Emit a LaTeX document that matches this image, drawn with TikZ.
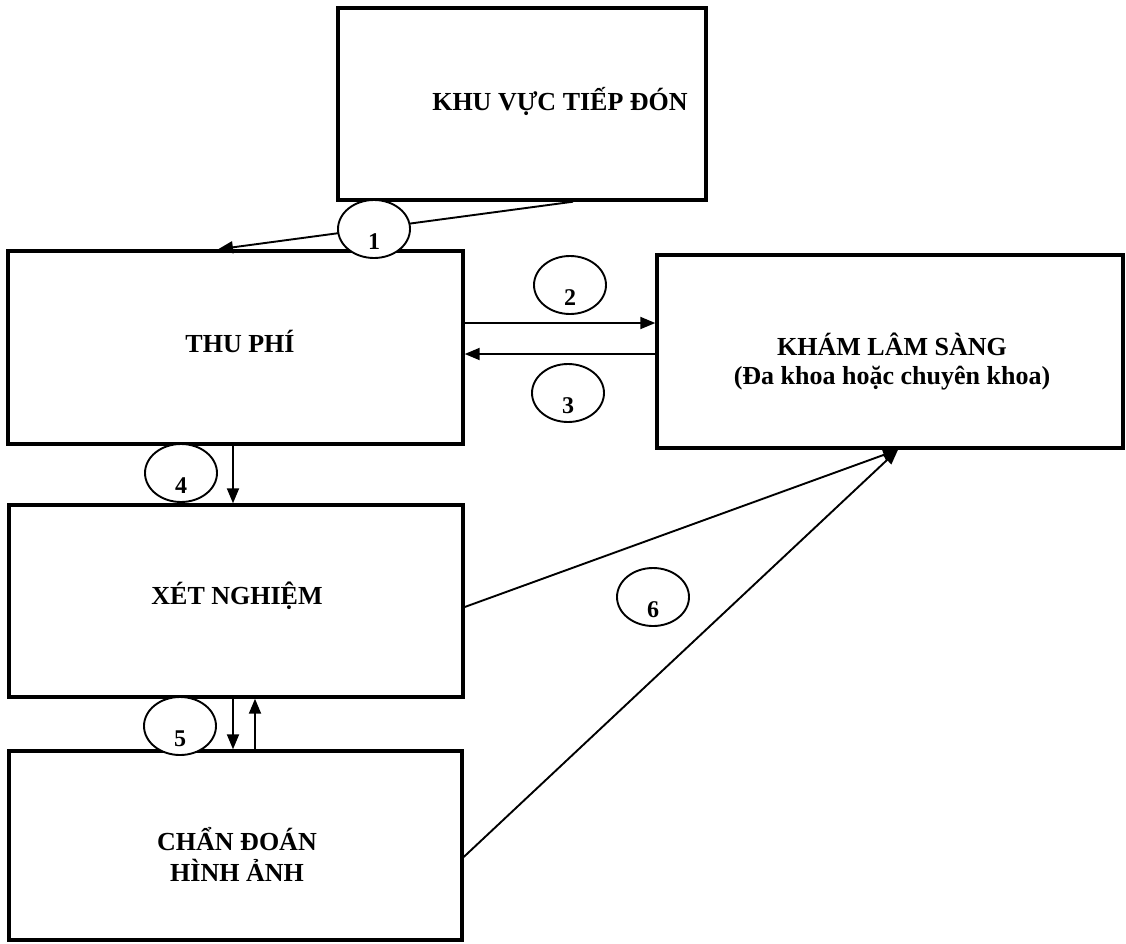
\documentclass[tikz,border=0pt]{standalone}
\usepackage{fontspec}
\setmainfont{Liberation Serif}
\usetikzlibrary{arrows.meta,shapes.geometric,calc}
\begin{document}
\begin{tikzpicture}[x=1pt,y=-1pt,
  box/.style={draw,line width=3.4pt,rectangle,inner sep=0pt},
  lbl/.style={font=\bfseries\fontsize{26}{30}\selectfont,inner sep=0pt,anchor=base},
  oval/.style={draw,fill=white,ellipse,line width=1.9pt,minimum width=72pt,minimum height=58pt,inner sep=0pt},
  num/.style={font=\bfseries\fontsize{24}{26}\selectfont,inner sep=0pt},
  link/.style={line width=1.9pt,-{Triangle[length=15pt,width=12pt]}}]
\useasboundingbox (0,0) rectangle (1126,943);
% boxes
\node[box,minimum width=368pt,minimum height=192pt] (kv) at (522,104) {};
\node[box,minimum width=455pt,minimum height=193pt] (thu) at (235.5,347.5) {};
\node[box,minimum width=466pt,minimum height=193pt] (kls) at (890,351.5) {};
\node[box,minimum width=454pt,minimum height=192pt] (xet) at (236,601) {};
\node[box,minimum width=453pt,minimum height=189pt] (cd) at (235.5,845.5) {};
% texts
\node[lbl] (kvt) at (560,110) {KHU VỰC TIẾP ĐÓN};
\node[lbl] (thut) at (240,352) {THU PHÍ};
\node[lbl] (klst1) at (892,355) {KHÁM LÂM SÀNG};
\node[lbl] (klst2) at (892,384) {(Đa khoa hoặc chuyên khoa)};
\node[lbl] (xett) at (237,604) {XÉT NGHIỆM};
\node[lbl] (cdt1) at (237,850) {CHẨN ĐOÁN};
\node[lbl] (cdt2) at (237,881) {HÌNH ẢNH};
% helper coordinates
\coordinate (x1s) at (573,0);
\coordinate (x1e) at (218,0);
\coordinate (y2) at (0,323);
\coordinate (y3) at (0,354);
\coordinate (xa) at (233,0);
\coordinate (xb) at (255,0);
\coordinate (y6a) at (0,607);
\coordinate (y6b) at (0,857);
\coordinate (x6) at (898,0);
% connectors
\draw[link] (kv.south -| x1s) -- (thu.north -| x1e);
\draw[link] (thu.east |- y2) -- (kls.west |- y2);
\draw[link] (kls.west |- y3) -- (thu.east |- y3);
\draw[link] (thu.south -| xa) -- (xet.north -| xa);
\draw[link] (xet.south -| xa) -- (cd.north -| xa);
\draw[link] (cd.north -| xb) -- (xet.south -| xb);
\draw[link] (xet.east |- y6a) -- (kls.south -| x6);
\draw[link] (cd.east |- y6b) -- (kls.south -| x6);
% ovals
\node[oval] (c1) at (374,229) {};
\node[oval] (c2) at (570,285) {};
\node[oval] (c3) at (568,393) {};
\node[oval] (c4) at (181,473) {};
\node[oval] (c5) at (180,726) {};
\node[oval] (c6) at (653,597) {};
\node[num] (n1) at ($(c1.center)+(0,13)$) {1};
\node[num] (n2) at ($(c2.center)+(0,13)$) {2};
\node[num] (n3) at ($(c3.center)+(0,13)$) {3};
\node[num] (n4) at ($(c4.center)+(0,13)$) {4};
\node[num] (n5) at ($(c5.center)+(0,13)$) {5};
\node[num] (n6) at ($(c6.center)+(0,13)$) {6};
\end{tikzpicture}
\end{document}
